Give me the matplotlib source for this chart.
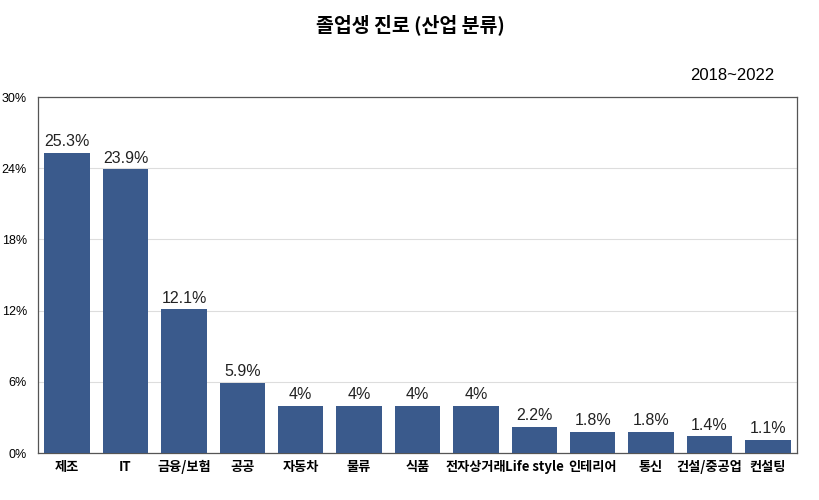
import matplotlib.pyplot as plt
from matplotlib.ticker import FuncFormatter

plt.rcParams['font.family'] = ['Noto Sans CJK KR', 'DejaVu Sans']

categories = ['제조', 'IT', '금융/보험', '공공', '자동차', '물류', '식품',
              '전자상거래', 'Life style', '인테리어', '통신', '건설/중공업', '컨설팅']
values = [25.3, 23.9, 12.1, 5.9, 4, 4, 4, 4, 2.2, 1.8, 1.8, 1.4, 1.1]
yticks = [0, 6, 12, 18, 24, 30]

fig = plt.figure(figsize=(8.2, 5), dpi=100)
ax = fig.add_axes([0.0463, 0.094, 0.9257, 0.712])

x = range(len(categories))
ax.bar(x, values, width=0.78, color='#3a5a8c', zorder=3)
for i, v in enumerate(values):
    ax.text(i, v + 0.3, f'{v:g}%', ha='center', va='bottom', fontsize=11.5,
            family=['Liberation Sans', 'DejaVu Sans'], color='#222222')

ax.set_xlim(-0.5, len(categories) - 0.5)
ax.set_ylim(0, 30)
ax.set_yticks(yticks)
ax.yaxis.set_major_formatter(FuncFormatter(lambda v, p: f'{v:.0f}%'))
ax.set_xticks(list(x))
ax.set_xticklabels(categories, fontsize=9.5, fontweight='bold')
ax.tick_params(axis='both', length=0)
ax.tick_params(axis='y', pad=8, labelsize=9)
ax.tick_params(axis='x', pad=5)
for lbl in ax.get_yticklabels():
    lbl.set_family(['Liberation Sans', 'DejaVu Sans'])
ax.grid(axis='y', color='#dddddd', linewidth=0.8, zorder=0)
for s in ax.spines.values():
    s.set_color('#555555')
    s.set_linewidth(0.9)

fig.text(0.5, 0.95, '졸업생 진로 (산업 분류)', ha='center', va='center',
         fontsize=14, fontweight='bold')
fig.text(0.893, 0.85, '2018~2022', ha='center', va='center', fontsize=12,
         family=['Liberation Sans', 'DejaVu Sans'])

fig.savefig('out.png', dpi=100)
